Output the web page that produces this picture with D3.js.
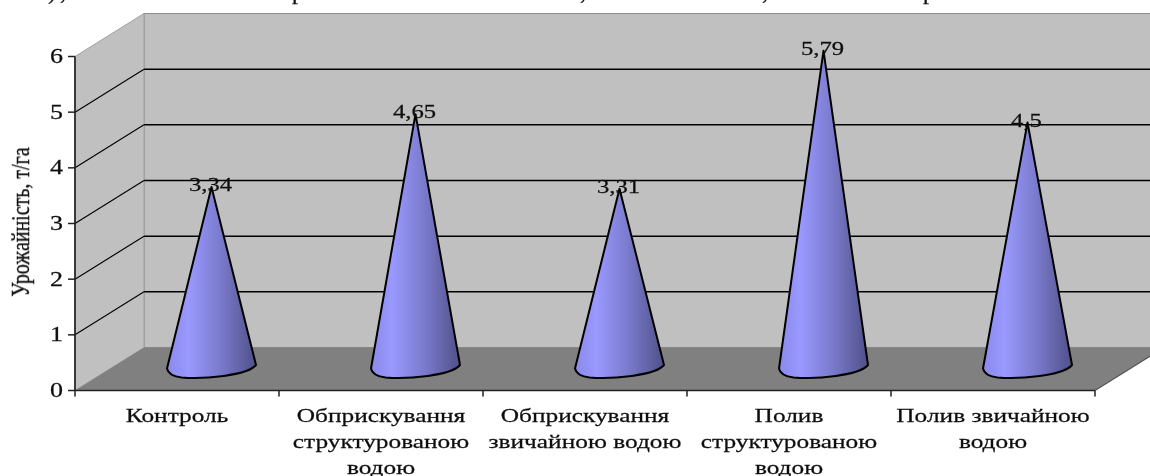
<!DOCTYPE html>
<html>
<head>
<meta charset="utf-8">
<script src="https://cdn.jsdelivr.net/npm/d3@7"></script>
<style>
  html, body { margin: 0; padding: 0; background: #fff; overflow: hidden; }
  text { font-family: "Liberation Serif", serif; fill: #111; stroke: #111; stroke-width: 0.25; }
</style>
</head>
<body>
<div id="vis"></div>
<script>
// Datos
const categories = ["Контроль", "Обприскування структурованою водою", "Обприскування звичайною водою", "Полив структурованою водою", "Полив звичайною водою"];
const categoryLines = [
  ["Контроль"],
  ["Обприскування", "структурованою", "водою"],
  ["Обприскування", "звичайною водою"],
  ["Полив", "структурованою", "водою"],
  ["Полив звичайною", "водою"]
];
const values = [3.34, 4.65, 3.31, 5.79, 4.5];
const valueLabels = ["3,34", "4,65", "3,31", "5,79", "4,5"];
const ticks = [0, 1, 2, 3, 4, 5, 6];
const yTitle = "Урожайність, т/га";
// pedazos de la linea de texto cortada arriba
const cutText = [[")", 48], [",", 60], ["р", 292], [",", 580], [",", 762], ["р", 923]];

// Constantes
const WIDTH = 1150;
const HEIGHT = 476;
const depthX = 69;
const depthY = 43;
const stretch = 1.3;

const svg = d3.select("#vis")
  .append("svg")
  .attr("width", WIDTH)
  .attr("height", HEIGHT)
  .style("display", "block");

const defs = svg.append("defs");

const grad = defs.append("linearGradient").attr("id", "cone");
[[0, "#8a8aea"], [0.24, "#9999ff"], [0.6, "#7a7acc"], [1, "#50508a"]].forEach(s => {
  grad.append("stop").attr("offset", s[0]).attr("stop-color", s[1]);
});

defs.append("filter").attr("id", "soft")
  .append("feGaussianBlur").attr("stdDeviation", 0.45);

// Escalas
const x = d3.scaleBand().domain(categories).range([75, 1095]);
const y = d3.scaleLinear().domain([0, 6]).range([390.5, 56.5]);

const root = svg.append("g").attr("filter", "url(#soft)");

// Texto cortado
root.selectAll(".cut")
  .data(cutText)
  .join("text")
  .attr("class", "cut")
  .attr("x", d => d[1])
  .attr("y", -1)
  .attr("font-size", 24)
  .text(d => d[0]);

// Paredes y piso
const x0 = x.range()[0];
const x1 = x.range()[1];
const points = a => a.map(p => p.join(",")).join(" ");

root.append("polygon")
  .attr("points", points([[x0 + depthX, y(6) - depthY], [x1 + depthX, y(6) - depthY], [x1 + depthX, y(0) - depthY], [x0 + depthX, y(0) - depthY]]))
  .attr("fill", "#c0c0c0")
  .attr("stroke", "#8c8c8c")
  .attr("stroke-width", 1.2);

root.append("polygon")
  .attr("points", points([[x0, y(6)], [x0 + depthX, y(6) - depthY], [x0 + depthX, y(0) - depthY], [x0, y(0)]]))
  .attr("fill", "#c0c0c0")
  .attr("stroke", "#a0a0a0")
  .attr("stroke-width", 1);

root.append("polygon")
  .attr("points", points([[x0, y(0)], [x1, y(0)], [x1 + depthX, y(0) - depthY], [x0 + depthX, y(0) - depthY]]))
  .attr("fill", "#808080");

// Grilla
const grid = ticks.filter(d => d > 0 && d < 6);
root.selectAll(".gridSide")
  .data(grid)
  .join("line")
  .attr("class", "gridSide")
  .attr("x1", x0).attr("x2", x0 + depthX)
  .attr("y1", d => y(d)).attr("y2", d => y(d) - depthY)
  .attr("stroke", "#000")
  .attr("stroke-width", 1.1);

root.selectAll(".gridBack")
  .data(grid)
  .join("line")
  .attr("class", "gridBack")
  .attr("x1", x0 + depthX).attr("x2", x1 + depthX)
  .attr("y1", d => y(d) - depthY).attr("y2", d => y(d) - depthY)
  .attr("stroke", "#000")
  .attr("stroke-width", 1.5);

// Ejes
root.append("line")
  .attr("x1", x0).attr("x2", x0).attr("y1", y(6)).attr("y2", y(0))
  .attr("stroke", "#222").attr("stroke-width", 1.7);

root.append("line")
  .attr("x1", x0).attr("x2", x1).attr("y1", y(0)).attr("y2", y(0))
  .attr("stroke", "#222").attr("stroke-width", 1.7);

root.append("line")
  .attr("x1", x1).attr("x2", x1 + depthX).attr("y1", y(0)).attr("y2", y(0) - depthY)
  .attr("stroke", "#555").attr("stroke-width", 1.2);

root.selectAll(".ytick")
  .data(ticks)
  .join("line")
  .attr("class", "ytick")
  .attr("x1", x0 - 7).attr("x2", x0)
  .attr("y1", d => y(d)).attr("y2", d => y(d))
  .attr("stroke", "#222").attr("stroke-width", 1.5);

root.selectAll(".xtick")
  .data(categories.map(d => x(d)).concat([x1]))
  .join("line")
  .attr("class", "xtick")
  .attr("x1", d => d).attr("x2", d => d)
  .attr("y1", y(0)).attr("y2", y(0) + 6)
  .attr("stroke", "#222").attr("stroke-width", 1.5);

root.selectAll(".ylabel")
  .data(ticks)
  .join("text")
  .attr("class", "ylabel")
  .attr("text-anchor", "end")
  .attr("font-size", 20)
  .attr("transform", d => `translate(63, ${y(d) + 6.5}) scale(${stretch}, 1)`)
  .text(d => d);

root.append("text")
  .attr("text-anchor", "middle")
  .attr("font-size", 19)
  .attr("transform", "translate(29, 222) rotate(-90) scale(1.05, 1.3)")
  .text(yTitle);

// Etiquetas de categorias
const catGroup = root.selectAll(".cat")
  .data(categories)
  .join("g")
  .attr("class", "cat");

catGroup.each(function(d, i) {
  d3.select(this).selectAll("text")
    .data(categoryLines[i])
    .join("text")
    .attr("text-anchor", "middle")
    .attr("font-size", 19.5)
    .attr("transform", (line, j) => `translate(${x(d) + x.bandwidth() / 2}, ${y(0) + 31 + j * 26}) scale(${stretch}, 1)`)
    .text(line => line);
});

// Conos
const centerX = (d, i) => x(categories[i]) + x.bandwidth() / 2 + depthX / 2;
const tipY = v => y(v) - 17.5;

function conePath(d, i) {
  const cx = centerX(d, i);
  const by = y(0);
  const path = d3.path();
  path.moveTo(cx, tipY(d));
  path.lineTo(cx + 44.5, by - 25.5);
  path.bezierCurveTo(cx + 36, by - 15, cx - 8, by - 11, cx - 30, by - 13);
  path.quadraticCurveTo(cx - 43, by - 14.5, cx - 44.5, by - 22);
  path.closePath();
  return path.toString();
}

root.selectAll(".cone")
  .data(values)
  .join("path")
  .attr("class", "cone")
  .attr("d", conePath)
  .attr("fill", "url(#cone)")
  .attr("stroke", "#000")
  .attr("stroke-width", 2)
  .attr("stroke-linejoin", "round");

// Etiquetas de valores
root.selectAll(".val")
  .data(values)
  .join("text")
  .attr("class", "val")
  .attr("text-anchor", "middle")
  .attr("font-size", 19)
  .attr("transform", (d, i) => `translate(${centerX(d, i) - 1}, ${tipY(d) + 4}) scale(${stretch}, 1)`)
  .text((d, i) => valueLabels[i]);
</script>
</body>
</html>
